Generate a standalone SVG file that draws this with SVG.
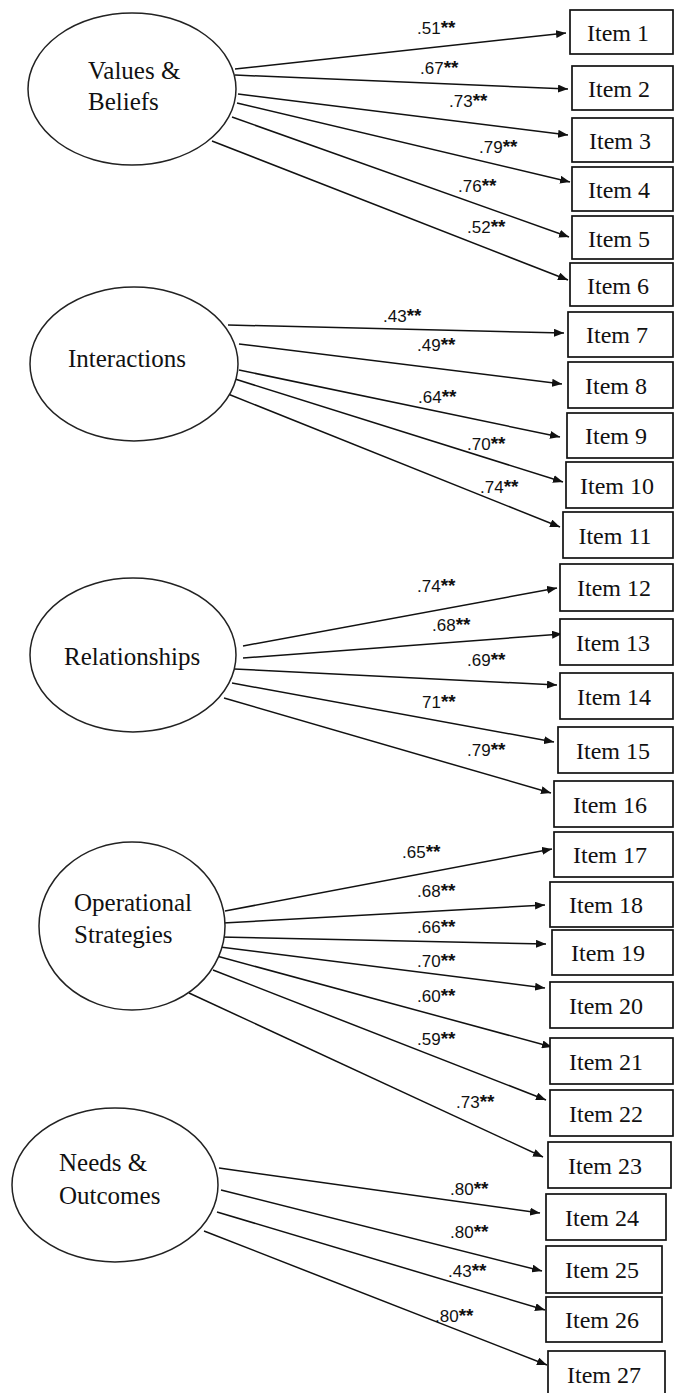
<svg xmlns="http://www.w3.org/2000/svg" width="675" height="1393" viewBox="0 0 675 1393">
<style>
.lat{fill:#fff;stroke:#222;stroke-width:1.5}
.box{fill:#fff;stroke:#111;stroke-width:1.7}
.t{font-family:"Liberation Serif","Times New Roman",serif;font-size:25px;fill:#111}
.it{font-family:"Liberation Serif","Times New Roman",serif;font-size:24px;fill:#111;text-anchor:middle}
.lb{font-family:"Liberation Sans",Arial,sans-serif;font-size:17px;fill:#111}
.lb tspan{font-size:19px;font-weight:bold}
.c line{stroke:#111;stroke-width:1.5;marker-end:url(#ah)}
</style>
<defs>
<marker id="ah" markerWidth="10" markerHeight="8" refX="10" refY="4" orient="auto" markerUnits="userSpaceOnUse">
<path d="M0,0 L10,4 L0,8 z" fill="#111"/>
</marker>
</defs>
<rect width="675" height="1393" fill="#fff"/>
<g id="connectors" class="c">
<line x1="235" y1="69" x2="566" y2="33"/>
<line x1="235" y1="75" x2="568" y2="89"/>
<line x1="238" y1="94" x2="568" y2="135"/>
<line x1="237" y1="103" x2="570" y2="182"/>
<line x1="232" y1="117" x2="569" y2="237"/>
<line x1="212" y1="141" x2="568" y2="280"/>
<line x1="228" y1="325" x2="564" y2="333"/>
<line x1="239" y1="344" x2="562" y2="384"/>
<line x1="239" y1="370" x2="560" y2="437"/>
<line x1="235" y1="379" x2="563" y2="482"/>
<line x1="228" y1="394" x2="560" y2="527"/>
<line x1="243" y1="646" x2="557" y2="588"/>
<line x1="243" y1="658" x2="562" y2="634"/>
<line x1="234" y1="669" x2="557" y2="685"/>
<line x1="232" y1="683" x2="554" y2="742"/>
<line x1="224" y1="698" x2="551" y2="793"/>
<line x1="225" y1="911" x2="552" y2="849"/>
<line x1="223" y1="923" x2="545" y2="905"/>
<line x1="220" y1="937" x2="546" y2="944"/>
<line x1="220" y1="947" x2="545" y2="988"/>
<line x1="213" y1="955" x2="552" y2="1047"/>
<line x1="213" y1="970" x2="546" y2="1100"/>
<line x1="189" y1="993" x2="543" y2="1157"/>
<line x1="219" y1="1168" x2="540" y2="1213"/>
<line x1="221" y1="1190" x2="542" y2="1271"/>
<line x1="217" y1="1212" x2="545" y2="1310"/>
<line x1="204" y1="1231" x2="547" y2="1365"/>
</g>
<g id="loadings" class="lb">
<text x="417" y="34">.51<tspan>**</tspan></text>
<text x="420" y="74">.67<tspan>**</tspan></text>
<text x="449" y="107">.73<tspan>**</tspan></text>
<text x="479" y="153">.79<tspan>**</tspan></text>
<text x="458" y="192">.76<tspan>**</tspan></text>
<text x="467" y="233">.52<tspan>**</tspan></text>
<text x="383" y="322">.43<tspan>**</tspan></text>
<text x="417" y="351">.49<tspan>**</tspan></text>
<text x="418" y="403">.64<tspan>**</tspan></text>
<text x="467" y="450">.70<tspan>**</tspan></text>
<text x="480" y="493">.74<tspan>**</tspan></text>
<text x="417" y="592">.74<tspan>**</tspan></text>
<text x="432" y="631">.68<tspan>**</tspan></text>
<text x="467" y="666">.69<tspan>**</tspan></text>
<text x="422" y="708">71<tspan>**</tspan></text>
<text x="467" y="756">.79<tspan>**</tspan></text>
<text x="402" y="858">.65<tspan>**</tspan></text>
<text x="417" y="897">.68<tspan>**</tspan></text>
<text x="417" y="933">.66<tspan>**</tspan></text>
<text x="417" y="967">.70<tspan>**</tspan></text>
<text x="417" y="1002">.60<tspan>**</tspan></text>
<text x="417" y="1045">.59<tspan>**</tspan></text>
<text x="456" y="1108">.73<tspan>**</tspan></text>
<text x="450" y="1195">.80<tspan>**</tspan></text>
<text x="450" y="1238">.80<tspan>**</tspan></text>
<text x="448" y="1277">.43<tspan>**</tspan></text>
<text x="435" y="1322">.80<tspan>**</tspan></text>
</g>
<g id="values-beliefs"><ellipse class="lat" cx="132" cy="89" rx="104" ry="76"/><text class="t" x="88" y="79">Values &amp;</text><text class="t" x="88" y="110">Beliefs</text></g>
<g id="interactions"><ellipse class="lat" cx="134" cy="364" rx="104" ry="77"/><text class="t" x="68" y="367">Interactions</text></g>
<g id="relationships"><ellipse class="lat" cx="133" cy="655" rx="103" ry="77"/><text class="t" x="64" y="665">Relationships</text></g>
<g id="operational-strategies"><ellipse class="lat" cx="132" cy="926" rx="93" ry="84"/><text class="t" x="74" y="911">Operational</text><text class="t" x="74" y="943">Strategies</text></g>
<g id="needs-outcomes"><ellipse class="lat" cx="115" cy="1185" rx="103" ry="77"/><text class="t" x="59" y="1171">Needs &amp;</text><text class="t" x="59" y="1204">Outcomes</text></g>
<g id="item1"><rect class="box" x="570" y="10" width="103" height="44"/><text class="it" x="618" y="41">Item 1</text></g>
<g id="item2"><rect class="box" x="572" y="66" width="101" height="44"/><text class="it" x="619" y="97">Item 2</text></g>
<g id="item3"><rect class="box" x="572" y="118" width="101" height="44"/><text class="it" x="620" y="149">Item 3</text></g>
<g id="item4"><rect class="box" x="572" y="167" width="101" height="44"/><text class="it" x="619" y="198">Item 4</text></g>
<g id="item5"><rect class="box" x="572" y="216" width="101" height="43"/><text class="it" x="619" y="247">Item 5</text></g>
<g id="item6"><rect class="box" x="570" y="263" width="103" height="43"/><text class="it" x="618" y="294">Item 6</text></g>
<g id="item7"><rect class="box" x="568" y="312" width="105" height="45"/><text class="it" x="617" y="343">Item 7</text></g>
<g id="item8"><rect class="box" x="568" y="362" width="105" height="46"/><text class="it" x="616" y="394">Item 8</text></g>
<g id="item9"><rect class="box" x="567" y="413" width="106" height="45"/><text class="it" x="616" y="444">Item 9</text></g>
<g id="item10"><rect class="box" x="566" y="462" width="107" height="46"/><text class="it" x="617" y="494">Item 10</text></g>
<g id="item11"><rect class="box" x="563" y="512" width="110" height="46"/><text class="it" x="615" y="544">Item 11</text></g>
<g id="item12"><rect class="box" x="560" y="564" width="113" height="47"/><text class="it" x="614" y="596">Item 12</text></g>
<g id="item13"><rect class="box" x="560" y="619" width="113" height="46"/><text class="it" x="613" y="651">Item 13</text></g>
<g id="item14"><rect class="box" x="560" y="673" width="113" height="46"/><text class="it" x="614" y="705">Item 14</text></g>
<g id="item15"><rect class="box" x="558" y="727" width="115" height="46"/><text class="it" x="613" y="759">Item 15</text></g>
<g id="item16"><rect class="box" x="554" y="781" width="119" height="46"/><text class="it" x="610" y="813">Item 16</text></g>
<g id="item17"><rect class="box" x="554" y="832" width="119" height="45"/><text class="it" x="610" y="863">Item 17</text></g>
<g id="item18"><rect class="box" x="550" y="882" width="123" height="45"/><text class="it" x="606" y="913">Item 18</text></g>
<g id="item19"><rect class="box" x="552" y="930" width="121" height="45"/><text class="it" x="608" y="961">Item 19</text></g>
<g id="item20"><rect class="box" x="550" y="982" width="123" height="46"/><text class="it" x="606" y="1014">Item 20</text></g>
<g id="item21"><rect class="box" x="550" y="1038" width="123" height="46"/><text class="it" x="606" y="1070">Item 21</text></g>
<g id="item22"><rect class="box" x="550" y="1090" width="123" height="46"/><text class="it" x="606" y="1122">Item 22</text></g>
<g id="item23"><rect class="box" x="548" y="1142" width="123" height="46"/><text class="it" x="605" y="1174">Item 23</text></g>
<g id="item24"><rect class="box" x="546" y="1194" width="120" height="46"/><text class="it" x="602" y="1226">Item 24</text></g>
<g id="item25"><rect class="box" x="546" y="1246" width="116" height="47"/><text class="it" x="602" y="1278">Item 25</text></g>
<g id="item26"><rect class="box" x="546" y="1297" width="116" height="45"/><text class="it" x="602" y="1328">Item 26</text></g>
<g id="item27"><rect class="box" x="548" y="1351" width="117" height="46"/><text class="it" x="604" y="1383">Item 27</text></g>
</svg>
